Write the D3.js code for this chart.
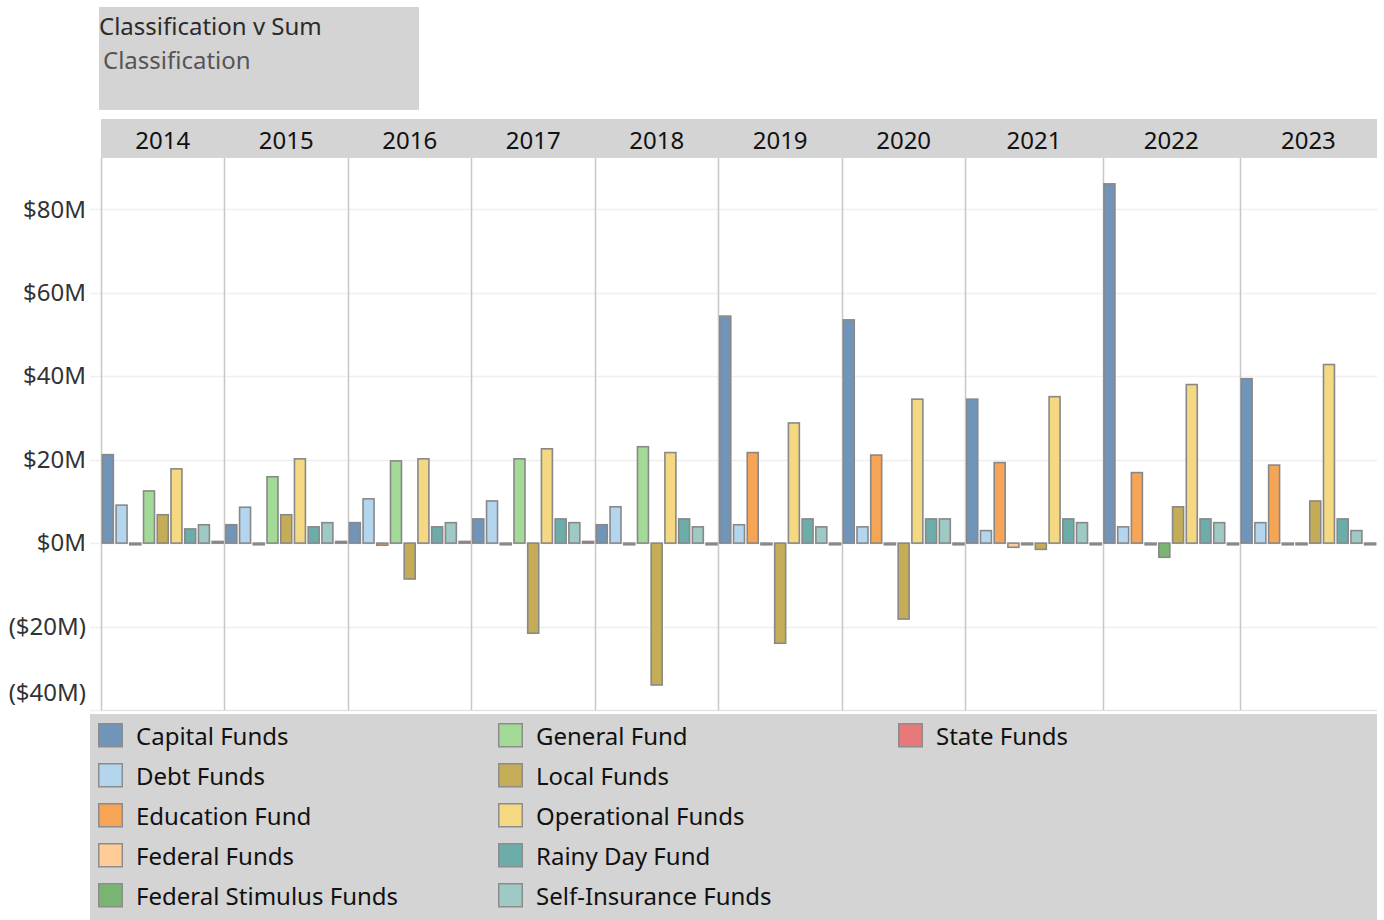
<!DOCTYPE html>
<html>
<head>
<meta charset="utf-8">
<script src="https://cdn.jsdelivr.net/npm/d3@7"></script>
<style>
  body { margin: 0; background: #fff; }
  svg { display: block; font-family: "Noto Sans", sans-serif; }
</style>
</head>
<body>
<div id="viz"></div>
<script>
// values in $M, null = no row for that year
var years = [2014, 2015, 2016, 2017, 2018, 2019, 2020, 2021, 2022, 2023];

var categories = ['Capital Funds', 'Debt Funds', 'Education Fund', 'Federal Funds',
  'Federal Stimulus Funds', 'General Fund', 'Local Funds', 'Operational Funds',
  'Rainy Day Fund', 'Self-Insurance Funds', 'State Funds'];

var palette = ['#4E79A7', '#A0CBE8', '#F28E2B', '#FFBE7D', '#59A14F', '#8CD17D',
  '#B6992D', '#F1CE63', '#499894', '#86BCB6', '#E15759'];

var capitalFunds         = [21.2, 4.4, 4.9, 5.8, 4.4, 54.4, 53.5, 34.5, 86.1, 39.4];
var debtFunds            = [9.1, 8.6, 10.6, 10.1, 8.7, 4.4, 3.9, 3.0, 3.9, 4.9];
var educationFund        = [-0.4, -0.4, -0.5, -0.4, -0.4, 21.7, 21.1, 19.3, 16.9, 18.7];
var federalFunds         = [null, null, null, null, null, null, null, -1.0, -0.4, -0.4];
var federalStimulusFunds = [null, null, null, null, null, null, null, -0.4, -3.4, -0.4];
var generalFund          = [12.5, 15.9, 19.7, 20.2, 23.1, -0.4, -0.4, null, null, null];
var localFunds           = [6.8, 6.8, -8.6, -21.6, -34.0, -24.0, -18.2, -1.5, 8.7, 10.1];
var operationalFunds     = [17.8, 20.2, 20.2, 22.6, 21.7, 28.8, 34.5, 35.1, 38.0, 42.8];
var rainyDayFund         = [3.4, 3.9, 3.9, 5.8, 5.8, 5.8, 5.8, 5.8, 5.8, 5.8];
var selfInsuranceFunds   = [4.4, 4.9, 4.9, 4.9, 3.9, 3.9, 5.8, 4.9, 4.9, 3.0];
var stateFunds           = [0.4, 0.4, 0.4, 0.4, -0.4, -0.4, -0.4, -0.4, -0.4, -0.4];

var yTicks = [-40, -20, 0, 20, 40, 60, 80];

var series = [capitalFunds, debtFunds, educationFund, federalFunds, federalStimulusFunds,
  generalFund, localFunds, operationalFunds, rainyDayFund, selfInsuranceFunds, stateFunds];

var W = 1384, H = 920,
    plot = { left: 101, right: 1377, top: 158, bottom: 710 },
    lightGrey = '#d4d4d4';

var color = d3.scaleOrdinal().domain(categories).range(palette.map(function(c) {
  return d3.interpolateRgb('#fff', c)(0.8);
}));

var svg = d3.select('#viz').append('svg')
    .attr('width', W)
    .attr('height', H);

// title box
svg.append('rect')
    .attr('x', 99).attr('y', 7).attr('width', 320).attr('height', 103)
    .attr('fill', lightGrey);
svg.append('text')
    .attr('x', 99).attr('y', 35)
    .attr('font-size', 24).attr('fill', '#2b2b2b')
    .text('Classification v Sum');
svg.append('text')
    .attr('x', 103).attr('y', 69)
    .attr('font-size', 24).attr('fill', '#555')
    .text('Classification');

// rows per year
var rows = years.map(function(yr, i) {
  var bars = [];
  categories.forEach(function(c, j) {
    if (series[j][i] !== null) bars.push({ cat: c, value: series[j][i] });
  });
  return { year: yr, bars: bars };
});

var totalSlots = d3.sum(rows, function(r) { return r.bars.length; });
var xSlot = d3.scaleLinear().domain([0, totalSlots]).range([plot.left, plot.right]);

var start = 0;
rows.forEach(function(r) {
  r.x0 = xSlot(start);
  r.x1 = xSlot(start + r.bars.length);
  start += r.bars.length;
  r.band = d3.scaleBand()
      .domain(r.bars.map(function(b) { return b.cat; }))
      .range([r.x0, r.x1])
      .paddingInner(0.2)
      .paddingOuter(0.1);
});

var y = d3.scaleLinear()
    .domain([-40, 92.3])
    .range([plot.bottom, plot.top]);

// header row
svg.append('rect')
    .attr('x', plot.left).attr('y', 119)
    .attr('width', plot.right - plot.left).attr('height', plot.top - 119)
    .attr('fill', lightGrey);
svg.append('g').selectAll('text')
    .data(rows)
    .enter().append('text')
    .attr('x', function(d) { return (d.x0 + d.x1) / 2; })
    .attr('y', 149)
    .attr('text-anchor', 'middle')
    .attr('font-size', 24)
    .attr('fill', '#111')
    .text(function(d) { return d.year; });

// gridlines
svg.append('g').selectAll('line')
    .data(yTicks)
    .enter().append('line')
    .attr('x1', 90).attr('x2', plot.right)
    .attr('y1', function(d) { return Math.round(y(d)) + 0.5; })
    .attr('y2', function(d) { return Math.round(y(d)) + 0.5; })
    .attr('stroke', '#efefef')
    .attr('stroke-width', 1.5);

// pane dividers
svg.append('g').selectAll('line')
    .data(rows)
    .enter().append('line')
    .attr('x1', function(d) { return Math.round(d.x0) + 0.5; })
    .attr('x2', function(d) { return Math.round(d.x0) + 0.5; })
    .attr('y1', plot.top).attr('y2', plot.bottom)
    .attr('stroke', '#c8c8c8')
    .attr('stroke-width', 1.5);
svg.append('line')
    .attr('x1', plot.left).attr('x2', plot.right)
    .attr('y1', plot.bottom + 0.5).attr('y2', plot.bottom + 0.5)
    .attr('stroke', '#e0e0e0');

// bars
rows.forEach(function(r) {
  svg.append('g').selectAll('rect')
      .data(r.bars)
      .enter().append('rect')
      .attr('x', function(d) { return r.band(d.cat); })
      .attr('width', r.band.bandwidth())
      .attr('y', function(d) { return y(Math.max(0, d.value)); })
      .attr('height', function(d) { return Math.abs(y(d.value) - y(0)); })
      .attr('fill', function(d) { return color(d.cat); })
      .attr('stroke', '#888')
      .attr('stroke-width', 1.6);
});

// y axis
var yAxis = d3.axisLeft(y)
    .tickValues(yTicks)
    .tickSize(0)
    .tickPadding(0)
    .tickFormat(function(d) {
      return d < 0 ? '($' + (-d) + 'M)' : '$' + d + 'M';
    });
var yGuide = svg.append('g')
    .attr('transform', 'translate(86,0)')
    .call(yAxis);
yGuide.select('.domain').remove();
yGuide.selectAll('text')
    .attr('font-family', '"Noto Sans", sans-serif')
    .attr('font-size', 24)
    .attr('fill', '#333');
yGuide.selectAll('.tick').filter(function(d) { return d === -40; })
    .select('text').attr('y', -17);

// legend
svg.append('rect')
    .attr('x', 90).attr('y', 714)
    .attr('width', plot.right - 90).attr('height', H - 714)
    .attr('fill', lightGrey);

var legend = svg.append('g').selectAll('g')
    .data(categories)
    .enter().append('g')
    .attr('transform', function(d, i) {
      return 'translate(' + (98 + Math.floor(i / 5) * 400) + ',' + (723 + (i % 5) * 40) + ')';
    });
legend.append('rect')
    .attr('x', 0.75).attr('y', 0.75)
    .attr('width', 23.5).attr('height', 23)
    .attr('fill', color)
    .attr('stroke', '#8c8c8c')
    .attr('stroke-width', 1.5);
legend.append('text')
    .attr('x', 38).attr('y', 22)
    .attr('font-size', 24)
    .attr('fill', '#111')
    .text(function(d) { return d; });
</script>
</body>
</html>
